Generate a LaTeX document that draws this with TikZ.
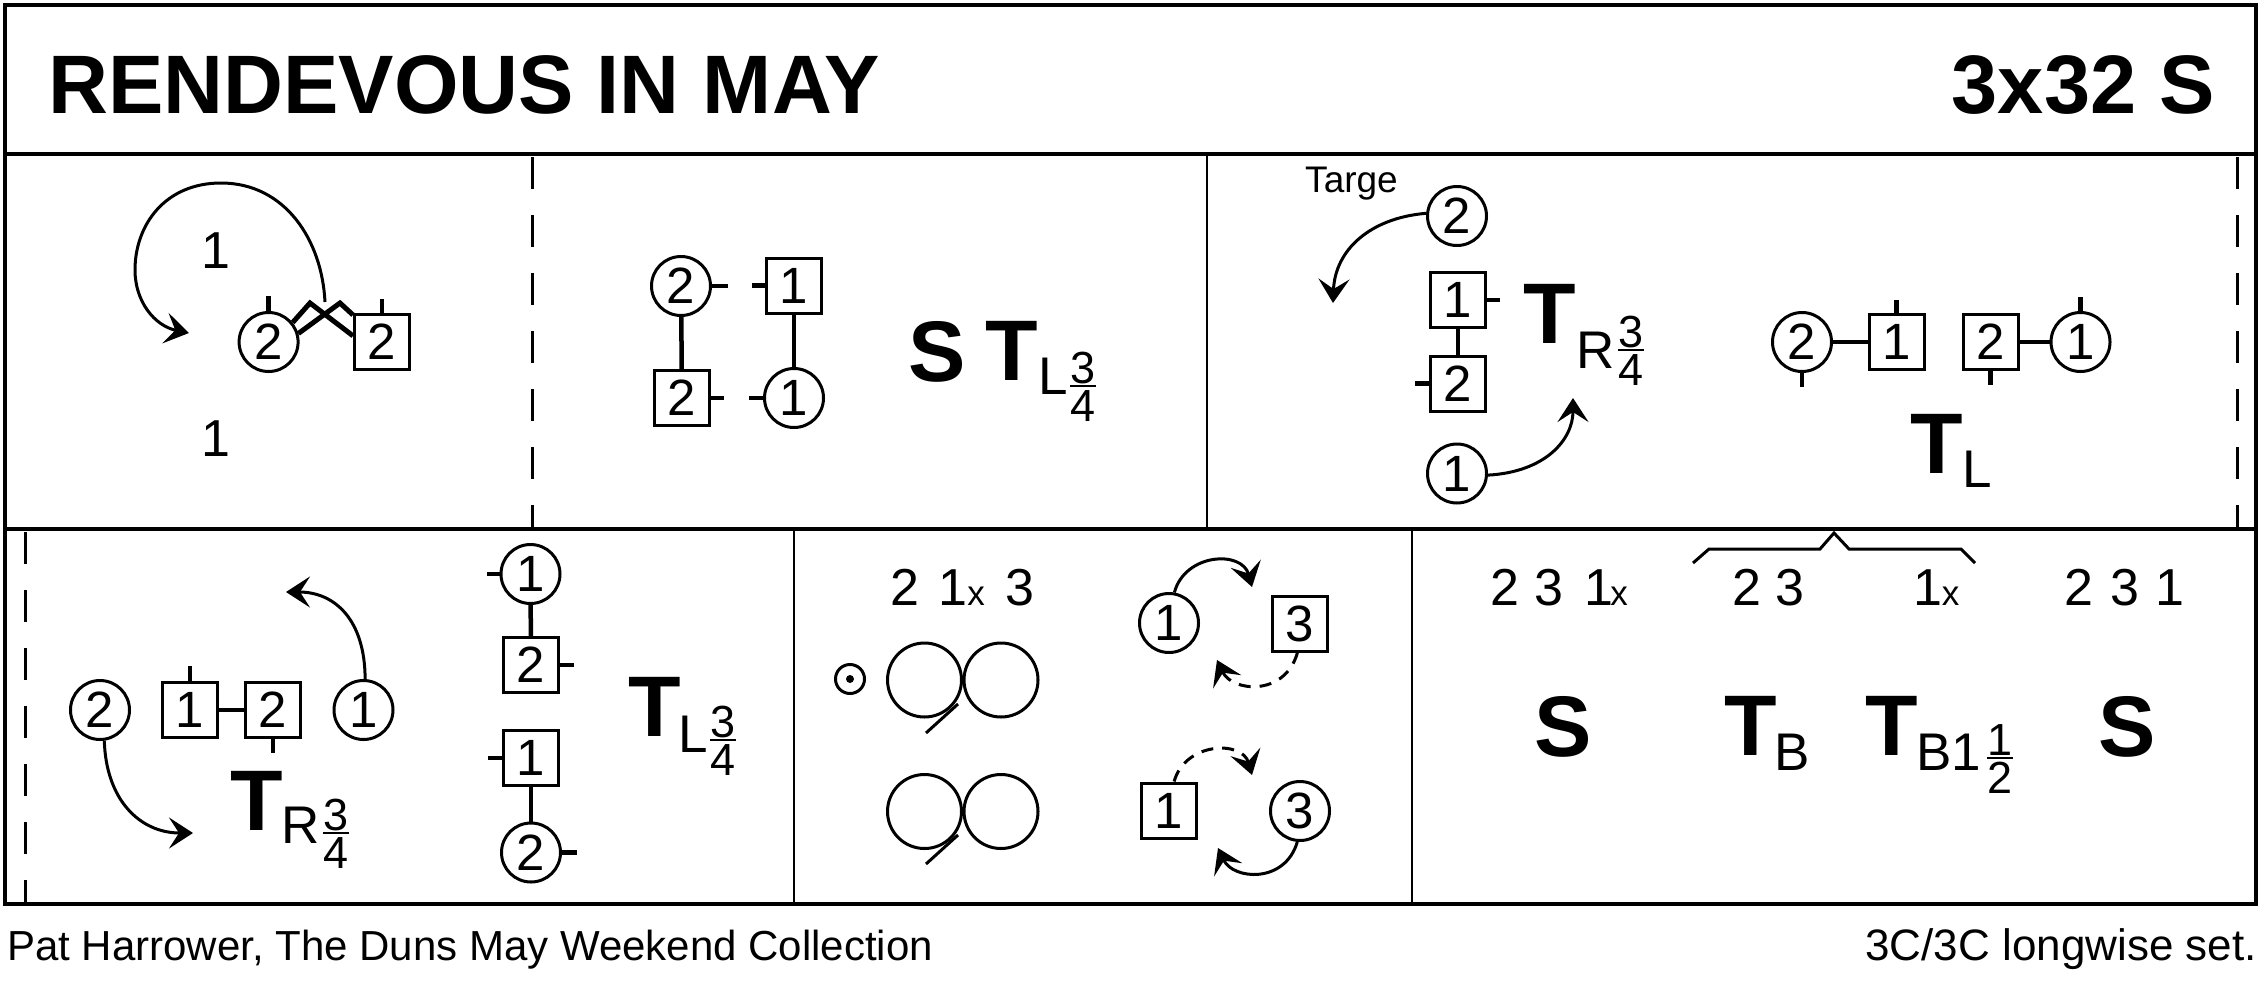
\documentclass[tikz,border=0pt]{standalone}
\usepackage{fontspec}
\setmainfont{Liberation Sans}
\usetikzlibrary{arrows.meta}
\newcommand\fTitle{\fontsize{83}{90}\selectfont\bfseries}
\newcommand\fBig{\fontsize{86}{90}\selectfont\bfseries}
\newcommand\fSub{\fontsize{53}{56}\selectfont}
\newcommand\fFrac{\fontsize{45}{48}\selectfont}
\newcommand\fLab{\fontsize{52}{56}\selectfont}
\newcommand\fNode{\fontsize{51}{54}\selectfont}
\newcommand\fX{\fontsize{35}{40}\selectfont}
\newcommand\fSmall{\fontsize{37}{40}\selectfont}
\newcommand\fFootL{\fontsize{42}{46}\selectfont}
\newcommand\fFootR{\fontsize{44}{48}\selectfont}
\tikzset{
 frame/.style={line width=3.5pt},
 divider/.style={line width=2.8pt},
 dashdiv/.style={line width=3pt, dash pattern=on 32pt off 26pt},
 dc/.style={circle, draw, line width=3pt, minimum size=59pt, inner sep=0pt, font=\fNode},
 ds/.style={rectangle, draw, line width=3pt, minimum size=55pt, inner sep=0pt, font=\fNode},
 arm/.style={line width=4.5pt},
 zig/.style={line width=5pt, line join=miter},
 mv/.style={line width=3pt, -{Stealth[length=24pt,width=31pt,inset=10pt]}},
 mvd/.style={mv, dash pattern=on 12pt off 9pt},
 big/.style={font=\fBig, inner sep=0pt, anchor=base west},
 sub/.style={font=\fSub, inner sep=0pt, anchor=base west},
 lab/.style={font=\fLab, inner sep=0pt, anchor=base},
 smallx/.style={font=\fX, inner sep=0pt, anchor=base},
 fr/.style={font=\fFrac, inner sep=0pt},
 fbar/.style={line width=2.5pt},
 thinline/.style={line width=3pt}
}
\newcommand\frc[5]{%
 \node[fr, anchor=base] (#1n) at (#2,#3-3) {#4};
 \draw[fbar] (#2-13,#3) -- (#2+13,#3);
 \node[fr, anchor=north] (#1d) at (#2,#3+4) {#5};}
\begin{document}
\begin{tikzpicture}[x=1pt,y=-1pt]
\useasboundingbox (0,0) rectangle (2267,988);
% ---------- frame ----------
\draw[frame] (5,5) rectangle (2256,904);
\draw[frame] (5,154) -- (2256,154);
\draw[frame] (5,529) -- (2256,529);
\draw[divider] (1207,154) -- (1207,529);
\draw[divider] (794,529) -- (794,904);
\draw[divider] (1412,529) -- (1412,904);
\draw[dashdiv] (532,157) -- (532,529);
\draw[dashdiv] (2237,157) -- (2237,529);
\draw[dashdiv] (25,532) -- (25,904);
% ---------- title ----------
\node[font=\fTitle, inner sep=0pt, anchor=base west] (title) at (48,113) {RENDEVOUS IN MAY};
\node[font=\fTitle, inner sep=0pt, anchor=base east] (form) at (2215,113) {3x32 S};
% ---------- footer ----------
\node[font=\fFootL, inner sep=0pt, anchor=base west] (foot1) at (7,960) {Pat Harrower, The Duns May Weekend Collection};
\node[font=\fFootR, inner sep=0pt, anchor=base east] (foot2) at (2257,960) {3C/3C longwise set.};

% ---------- row 1, panel 1 ----------
\node[lab] (one1) at (216,268) {1};
\node[lab] (one2) at (216,456) {1};
\node[dc] (c2a) at (268.6,342) {2};
\node[ds] (s2a) at (382,342) {2};
\draw[arm] (c2a.north) -- ++(0,-15);
\draw[arm] (s2a.north) -- ++(0,-14);
\coordinate (pkA) at (310,303);
\coordinate (pkB) at (340,303);
\draw[zig] (c2a.39) -- (pkA) -- (s2a.168);
\draw[zig] (c2a.16) -- (pkB) -- (s2a.137);
\coordinate (a1s) at (325,302);
\coordinate (a1e) at (189,333);
\draw[mv] (a1s) .. controls (322,240) and (285,183) .. (221,183)
  .. controls (165,183) and (135,225) .. (135,270)
  .. controls (135,302) and (155,326) .. (a1e);

% ---------- row 1, panel 2 ----------
\node[dc] (c2b) at (681,286) {2};
\node[ds] (s1b) at (794,285.5) {1};
\node[ds] (s2b) at (682,398) {2};
\node[dc] (c1b) at (794,398) {1};
\draw[arm] (c2b.east) -- ++(16,0);
\draw[arm] (s1b.west) -- ++(-13,0);
\draw[arm] (s2b.east) -- ++(13,0);
\draw[arm] (c1b.west) -- ++(-14,0);
\draw[arm] (c2b) -- (s2b);
\draw[arm] (s1b) -- (c1b);
\node[big] (Sb) at (908,381) {S};
\node[big] (Tb) at (985,380) {T};
\node[sub] (Lb) at (1038,394) {L};
\frc{fb}{1083}{386}{3}{4}

% ---------- row 1, panel 3 ----------
\node[font=\fSmall, inner sep=0pt, anchor=base west] (targe) at (1305,192) {Targe};
\node[dc] (c2c) at (1457,216) {2};
\node[ds] (s1c) at (1458,300) {1};
\node[ds] (s2c) at (1458,383.5) {2};
\node[dc] (c1c) at (1457,473.5) {1};
\draw[arm] (s1c.east) -- ++(13,0);
\draw[arm] (s2c.west) -- ++(-14,0);
\draw[arm] (s1c) -- (s2c);
\coordinate (a2e) at (1333,303);
\draw[mv] (c2c.175) .. controls (1370,218) and (1335,250) .. (a2e);
\coordinate (a3e) at (1573,398);
\draw[mv] (c1c.357) .. controls (1545,472) and (1573,440) .. (a3e);
\node[big] (Tc) at (1523,343) {T};
\node[sub] (Rc) at (1576,368) {R};
\frc{fc}{1631}{350}{3}{4}

% ---------- row 1, panel 4 ----------
\node[dc] (c2d) at (1802,342) {2};
\node[ds] (s1d) at (1896.5,342) {1};
\node[ds] (s2d) at (1990.5,342) {2};
\node[dc] (c1d) at (2080.5,342) {1};
\draw[arm] (c2d.south) -- ++(0,14);
\draw[arm] (s1d.north) -- ++(0,-13);
\draw[arm] (s2d.south) -- ++(0,14);
\draw[arm] (c1d.north) -- ++(0,-14);
\draw[arm] (c2d) -- (s1d);
\draw[arm] (s2d) -- (c1d);
\node[big] (Td) at (1910,473) {T};
\node[sub] (Ld) at (1962,487) {L};

% ---------- row 2, panel 1 ----------
\node[dc] (c2e) at (100,710) {2};
\node[ds] (s1e) at (190,710) {1};
\node[ds] (s2e) at (273,710) {2};
\node[dc] (c1e) at (363.5,710) {1};
\draw[arm] (s1e.north) -- ++(0,-15);
\draw[arm] (s2e.south) -- ++(0,14);
\draw[arm] (s1e) -- (s2e);
\coordinate (a4e) at (193,833);
\draw[mv] (c2e.278) .. controls (106,800) and (140,833) .. (a4e);
\coordinate (a5e) at (286,592);
\draw[mv] (c1e.87) .. controls (365,620) and (335,592) .. (a5e);
\node[big] (Te) at (230,830) {T};
\node[sub] (Re) at (281,843) {R};
\frc{fe}{336}{833}{3}{4}

\node[dc] (c1f) at (530.5,574) {1};
\node[ds] (s2f) at (531,665) {2};
\node[ds] (s1f) at (531,758) {1};
\node[dc] (c2f) at (531,852.5) {2};
\draw[arm] (c1f.west) -- ++(-13,0);
\draw[arm] (s2f.east) -- ++(14,0);
\draw[arm] (s1f.west) -- ++(-14,0);
\draw[arm] (c2f.east) -- ++(15,0);
\draw[arm] (c1f) -- (s2f);
\draw[arm] (s1f) -- (c2f);
\node[big] (Tf) at (628,736) {T};
\node[sub] (Lf) at (678,752) {L};
\frc{ff}{723}{740}{3}{4}

% ---------- row 2, panel 2 ----------
\node[lab] (g2) at (904.5,605) {2};
\node[lab] (g1) at (953,605) {1};
\node[smallx] (gx) at (976,605) {x};
\node[lab] (g3) at (1019.5,605) {3};
\draw[thinline] (850,679) circle (14.5);
\fill (850,679) circle (4);
\draw[thinline] (924.5,680) circle (37);
\draw[thinline] (1001,680) circle (37);
\draw[thinline] (958,704) -- (926,733);
\draw[thinline] (924.5,811.5) circle (37);
\draw[thinline] (1001,811.5) circle (37);
\draw[thinline] (958,835) -- (926,864);
\node[dc] (c1g) at (1169,623) {1};
\node[ds] (s3g) at (1300,623.5) {3};
\node[ds] (s1h) at (1168.5,810.5) {1};
\node[dc] (c3h) at (1300,811) {3};
\coordinate (a6e) at (1252,587);
\draw[mv] (c1g.80) .. controls (1185,553) and (1242,550) .. (a6e);
\coordinate (a7e) at (1217,660);
\draw[mvd] (s3g.265) .. controls (1285,697) and (1232,692) .. (a7e);
\coordinate (a8e) at (1252,775);
\draw[mvd] (s1h.79) .. controls (1185,742) and (1242,740) .. (a8e);
\coordinate (a9e) at (1218,848);
\draw[mv] (c3h.265) .. controls (1285,884) and (1233,880) .. (a9e);

% ---------- row 2, panel 3 ----------
\node[lab] (h1) at (1505,605) {2};
\node[lab] (h2) at (1549,605) {3};
\node[lab] (h3) at (1598.5,605) {1};
\node[smallx] (h4) at (1619,605) {x};
\node[lab] (h5) at (1746.5,605) {2};
\node[lab] (h6) at (1790,605) {3};
\node[lab] (h7) at (1928,605) {1};
\node[smallx] (h8) at (1950.5,605) {x};
\node[lab] (h9) at (2079,605) {2};
\node[lab] (h10) at (2124.5,605) {3};
\node[lab] (h11) at (2170,605) {1};
\draw[thinline, line join=miter] (1693,563) -- (1709,549) -- (1820,549) -- (1834,533)
  -- (1849,549) -- (1961,549) -- (1975,563);
\node[big] (Si) at (1534,756) {S};
\node[big] (Ti) at (1724,755) {T};
\node[sub] (Bi) at (1774,770) {B};
\node[big] (Tj) at (1865,755) {T};
\node[sub] (Bj) at (1916,770) {B1};
\frc{fj}{2000}{758}{1}{2}
\node[big] (Sk) at (2098,756) {S};
\end{tikzpicture}
\end{document}
